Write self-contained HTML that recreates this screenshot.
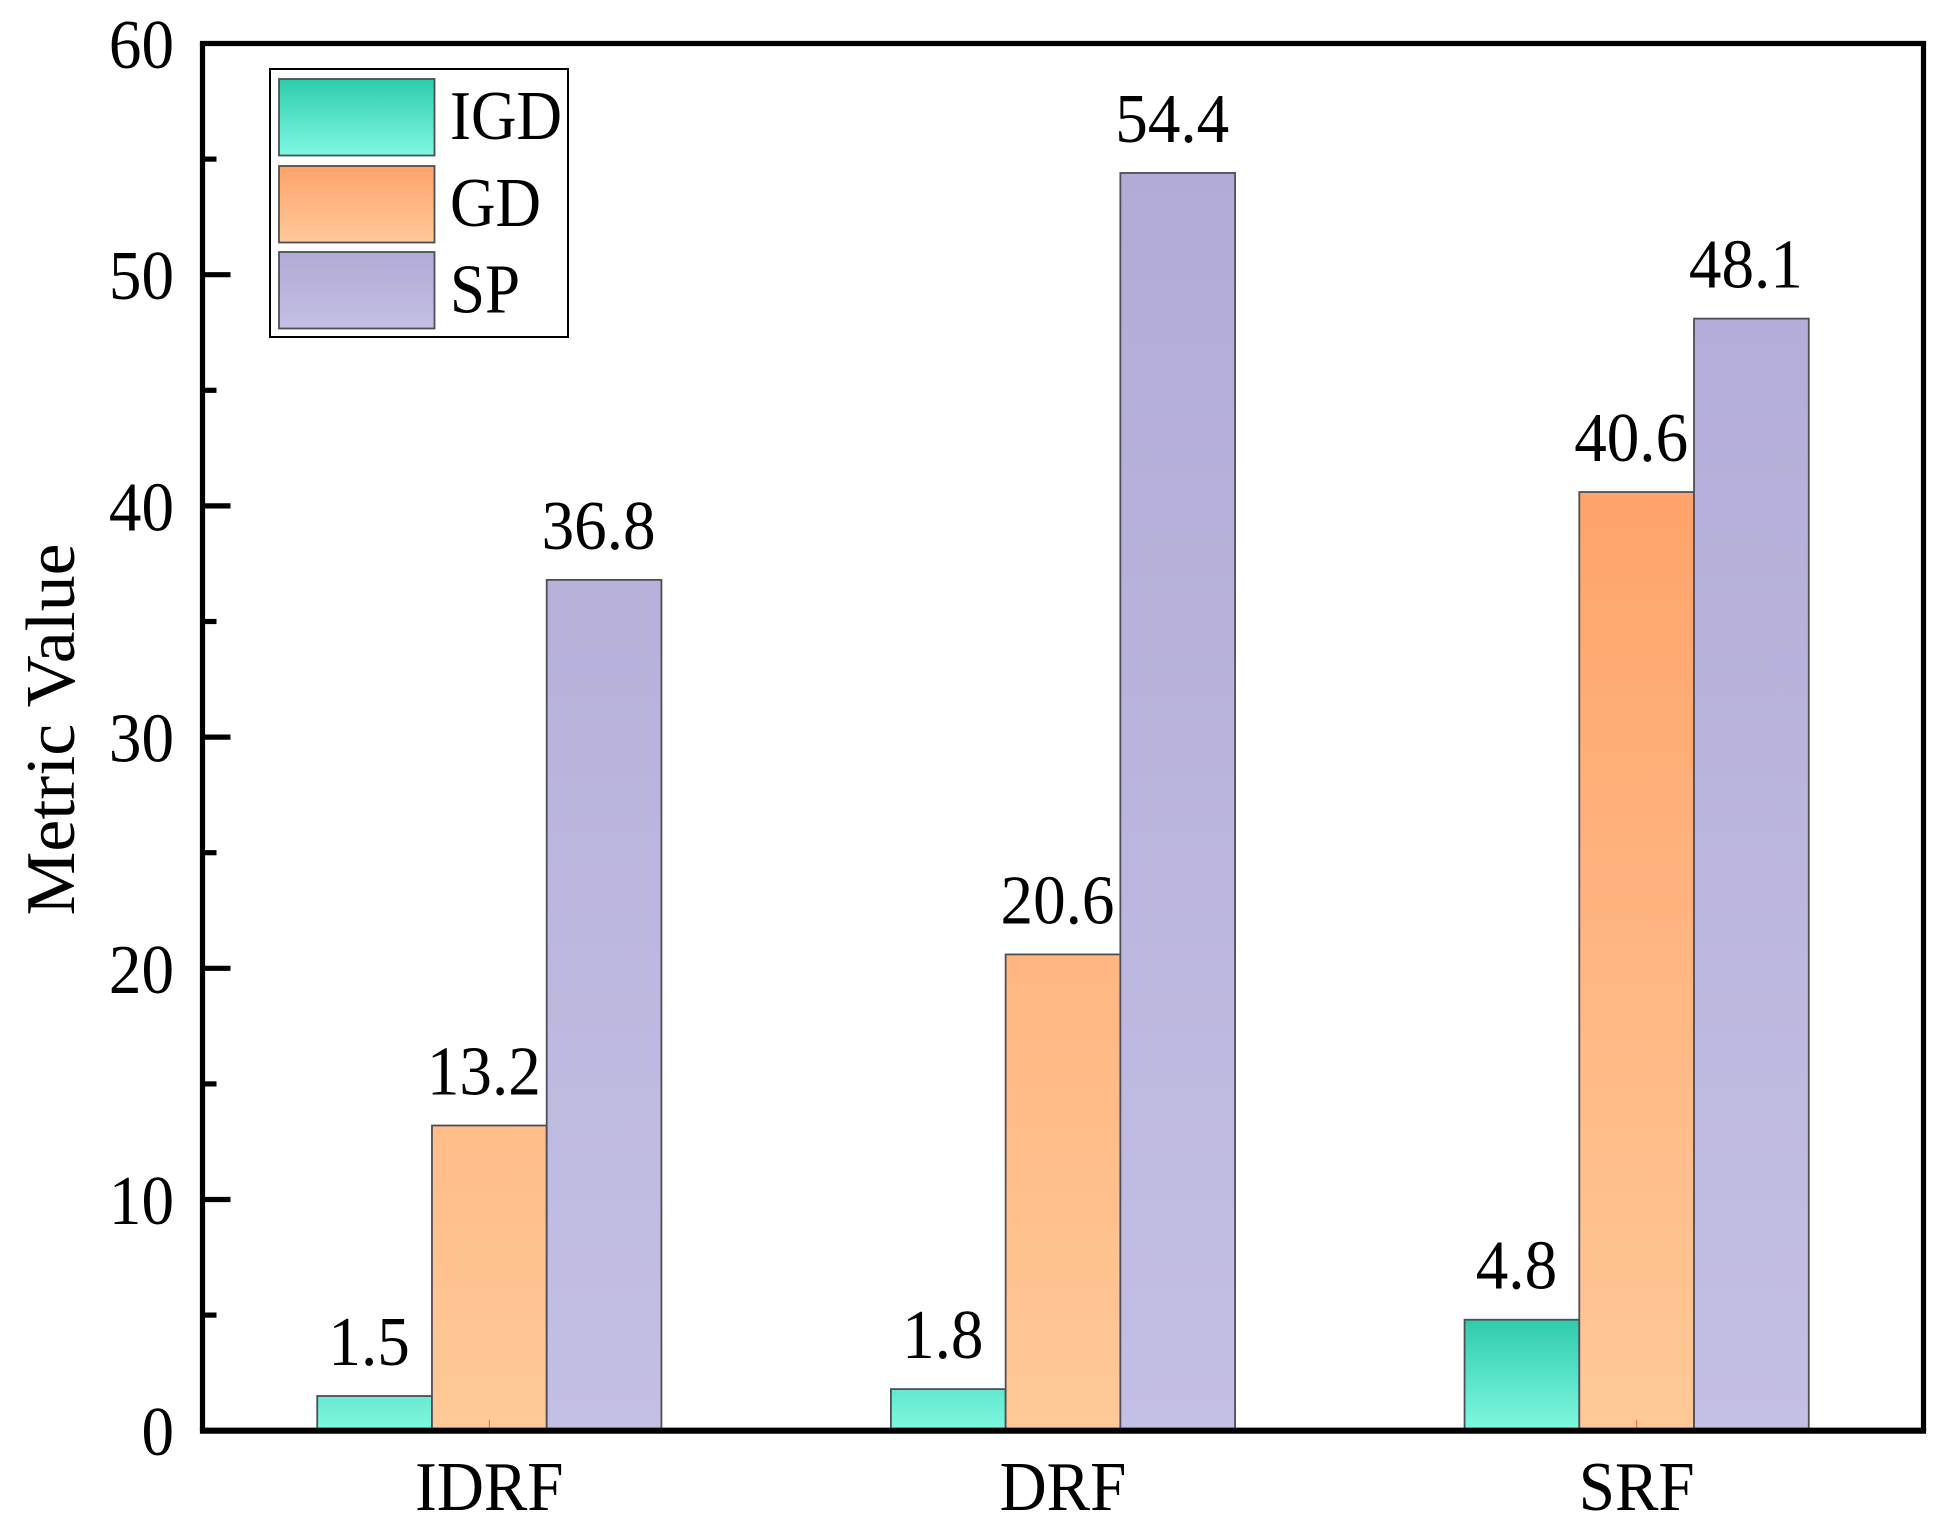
<!DOCTYPE html>
<html lang="en">
<head>
<meta charset="utf-8">
<title>Metric Value by Reward Function</title>
<style>
html,body{margin:0;padding:0;background:#fff;}
svg{display:block;}
text{font-family:"Liberation Serif",serif;fill:#000;}
</style>
</head>
<body>
<svg id="chart" xmlns="http://www.w3.org/2000/svg" width="1949" height="1539" viewBox="0 0 1949 1539">
  <defs id="defs"></defs>
  <rect x="0" y="0" width="1949" height="1539" fill="#fff"/>
  <g id="bars"></g>
  <g id="stubs"></g>
  <g id="values"></g>
  <g id="axes"></g>
  <text x="74" y="729.5" transform="rotate(-90 74 729.5)" text-anchor="middle" font-size="70" textLength="372" lengthAdjust="spacingAndGlyphs">Metric Value</text>
  <g id="legend"></g>
</svg>
<script>
const categories = ['IDRF', 'DRF', 'SRF'];
const seriesNames = ['IGD', 'GD', 'SP'];
const igdValues = [1.5, 1.8, 4.8];
const gdValues = [13.2, 20.6, 40.6];
const spValues = [36.8, 54.4, 48.1];
const yMajorTicks = [0, 10, 20, 30, 40, 50, 60];
const yMinorTicks = [5, 15, 25, 35, 45, 55];
const stubCategories = ['IDRF', 'SRF'];

const svgNS = 'http://www.w3.org/2000/svg';
const plotLeft = 202.5, plotRight = 1923.5, plotTop = 43.5, plotBottom = 1430.7;
const yMin = 0, yMax = 60;
const seriesValues = [igdValues, gdValues, spValues];
const seriesTop = ['#2fcbae', '#ffa36b', '#b1abd6'];
const seriesBottom = ['#7ff9e0', '#ffc998', '#c4bfe4'];
const font = 70;
const squeeze = 0.93;

function yScale(v) { return plotBottom - (v - yMin) / (yMax - yMin) * (plotBottom - plotTop); }
const band = (plotRight - plotLeft) / categories.length;
const barW = band * 0.2;
function xCenter(i) { return plotLeft + (i + 0.5) * band; }
function xBar(i, s) { return xCenter(i) + (s - seriesValues.length / 2) * barW; }

function make(tag, attrs, parent) {
  const el = document.createElementNS(svgNS, tag);
  for (const k in attrs) el.setAttribute(k, attrs[k]);
  parent.appendChild(el);
  return el;
}
function fit(el, ratio) {
  el.setAttribute('textLength', (el.getComputedTextLength() * ratio).toFixed(2));
  el.setAttribute('lengthAdjust', 'spacingAndGlyphs');
}

const defs = document.getElementById('defs');
const barsG = document.getElementById('bars');
const stubsG = document.getElementById('stubs');
const valuesG = document.getElementById('values');
const axesG = document.getElementById('axes');
const legendG = document.getElementById('legend');

seriesValues.forEach(function (vals, s) {
  const g = make('linearGradient', { id: 'grad-' + s, gradientUnits: 'userSpaceOnUse', x1: 0, x2: 0, y1: yScale(Math.max.apply(null, vals)), y2: yScale(0) }, defs);
  make('stop', { offset: 0, 'stop-color': seriesTop[s] }, g);
  make('stop', { offset: 1, 'stop-color': seriesBottom[s] }, g);
  const lg = make('linearGradient', { id: 'legend-grad-' + s, x1: 0, x2: 0, y1: 0, y2: 1 }, defs);
  make('stop', { offset: 0, 'stop-color': seriesTop[s] }, lg);
  make('stop', { offset: 1, 'stop-color': seriesBottom[s] }, lg);
});

// bars and value labels
seriesValues.forEach(function (vals, s) {
  vals.forEach(function (v, i) {
    const x = xBar(i, s);
    const top = yScale(v);
    const bar = make('rect', { x: x, y: top, width: barW, height: yScale(0) - top, fill: 'url(#grad-' + s + ')', stroke: '#4e4e58', 'stroke-width': 1.8 }, barsG);
    
    
    const label = make('text', { x: x + barW / 2 - 5.5, y: top - 31, 'text-anchor': 'middle', 'font-size': font }, valuesG);
    label.textContent = v.toFixed(1);
    fit(label, squeeze);
    
    
  });
});

// small orange marks at the category centre
stubCategories.forEach(function (c) {
  const cx = xCenter(categories.indexOf(c));
  const stub = make('line', { x1: cx, x2: cx, y1: plotBottom - 11, y2: plotBottom - 2, stroke: '#f0651e', 'stroke-width': 1 }, stubsG);
  
  
});

// y axis ticks
yMajorTicks.forEach(function (t) {
  const y = yScale(t);
  if (t > yMin && t < yMax) {
    const tick = make('line', { x1: plotLeft, x2: plotLeft + 28, y1: y, y2: y, stroke: '#000', 'stroke-width': 5.2 }, axesG);
    
    
  }
  const label = make('text', { x: 174, y: y + 24.5, 'text-anchor': 'end', 'font-size': font }, axesG);
  label.textContent = t;
  fit(label, squeeze);
  
  
});
yMinorTicks.forEach(function (t) {
  const y = yScale(t);
  const tick = make('line', { x1: plotLeft, x2: plotLeft + 14, y1: y, y2: y, stroke: '#000', 'stroke-width': 5.2 }, axesG);
  
  
});

// x axis labels
categories.forEach(function (c, i) {
  const label = make('text', { x: xCenter(i), y: 1510, 'text-anchor': 'middle', 'font-size': font }, axesG);
  label.textContent = c;
  fit(label, squeeze);
  
  
});

// plot frame: the bottom spine is a little heavier than the other three
const spineTop = make('line', { x1: plotLeft - 2.6, x2: plotRight + 2.6, y1: plotTop, y2: plotTop, stroke: '#000', 'stroke-width': 5.2 }, axesG);


const spineRight = make('line', { x1: plotRight, x2: plotRight, y1: plotTop, y2: plotBottom, stroke: '#000', 'stroke-width': 5.2 }, axesG);


const spineLeft = make('line', { x1: plotLeft, x2: plotLeft, y1: plotTop, y2: plotBottom, stroke: '#000', 'stroke-width': 5.2 }, axesG);


const spineBottom = make('line', { x1: plotLeft - 2.6, x2: plotRight + 2.6, y1: plotBottom, y2: plotBottom, stroke: '#000', 'stroke-width': 6.2 }, axesG);



// legend
const legendBox = make('rect', { x: 270, y: 69, width: 298, height: 268, fill: '#fff', stroke: '#000', 'stroke-width': 2 }, legendG);


const swatchTops = [79, 166, 252];
const labelBases = [139, 226, 312.5];
seriesNames.forEach(function (n, s) {
  const sw = make('rect', { x: 279, y: swatchTops[s], width: 155.5, height: 76.5, fill: 'url(#legend-grad-' + s + ')', stroke: '#4e4e58', 'stroke-width': 1.8 }, legendG);
  
  
  const t = make('text', { x: 450, y: labelBases[s], 'font-size': font }, legendG);
  t.textContent = n;
  fit(t, 0.9);
  
  
});
</script>
</body>
</html>
